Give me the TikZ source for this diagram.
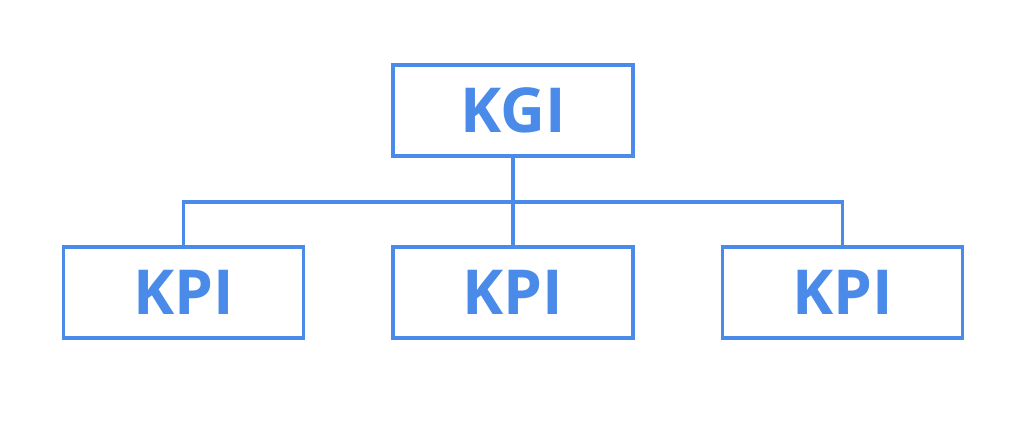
\documentclass[tikz,border=0pt]{standalone}
\usepackage{fontspec}
\setmainfont{Open Sans}
\definecolor{kblue}{HTML}{4A8AE8}
\begin{document}
\begin{tikzpicture}[x=1pt,y=-1pt,
  box/.style={draw=kblue,line width=3.3pt,minimum width=240pt,minimum height=91pt,inner sep=0pt,
    text=kblue,font=\fontsize{62}{62}\selectfont\bfseries},
  conn/.style={draw=kblue,line width=3.3pt}]
\useasboundingbox[fill=white] (0,0) rectangle (1024,424);
\node[box] (kgi) at (513,110.5) {KGI};
\node[box] (kpi1) at (183.5,292.5) {KPI};
\node[box] (kpi2) at (513,292.5) {KPI};
\node[box] (kpi3) at (842.5,292.5) {KPI};
\coordinate (hl) at (183.5,202);
\coordinate (hr) at (842.5,202);
\draw[conn] (kgi.south) -- (kpi2.north);
\draw[conn] (kpi1.north) -- (hl) -- (hr) -- (kpi3.north);
\end{tikzpicture}
\end{document}
